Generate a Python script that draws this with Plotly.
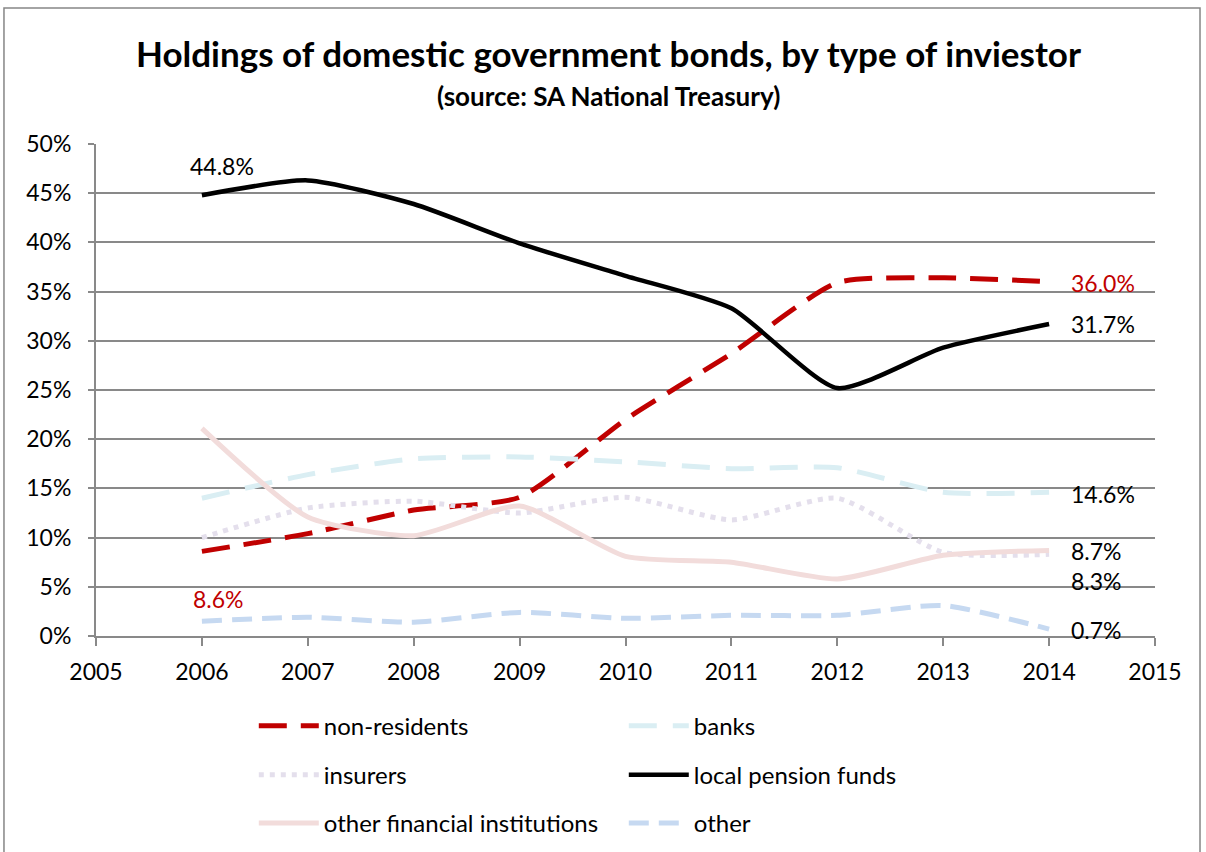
import plotly.graph_objects as go

years = [2006, 2007, 2008, 2009, 2010, 2011, 2012, 2013, 2014]

non_residents = [8.6, 10.4, 12.8, 14.1, 22.0, 28.7, 35.9, 36.4, 36.0]
banks = [14.0, 16.4, 18.0, 18.2, 17.7, 17.0, 17.1, 14.6, 14.6]
insurers = [10.0, 13.0, 13.7, 12.5, 14.1, 11.8, 14.0, 8.5, 8.3]
pension_funds = [44.8, 46.3, 43.9, 39.9, 36.6, 33.3, 25.2, 29.3, 31.7]
other_financial = [21.1, 12.1, 10.2, 13.2, 8.1, 7.5, 5.8, 8.2, 8.7]
other = [1.5, 1.9, 1.4, 2.4, 1.8, 2.1, 2.1, 3.1, 0.7]

FONT = "Lato, Open Sans, sans-serif"

series = [
    ("non-residents", non_residents, "#C00000", "28px,14px", 5, "legend"),
    ("banks", banks, "#DAEEF3", "28px,16px", 5, "legend"),
    ("insurers", insurers, "#E4DFEC", "5px,6px", 5, "legend2"),
    ("local pension funds", pension_funds, "#000000", "solid", 4.5, "legend2"),
    ("other financial institutions", other_financial, "#F2DCDB", "solid", 5, "legend3"),
    ("other", other, "#C6D9F1", "20px,10px", 5, "legend3"),
]

fig = go.Figure()
for name, vals, color, dash, width, leg in series:
    fig.add_trace(go.Scatter(
        x=years, y=vals, name=name, mode="lines",
        line=dict(color=color, width=width, dash=dash, shape="spline", smoothing=0.6),
        legend=leg,
    ))

# value labels at the series end points
def label(x, y, text, color="#000000", xshift=0, yshift=0, xanchor="center"):
    fig.add_annotation(x=x, y=y, text=text, showarrow=False, xanchor=xanchor,
                       xshift=xshift, yshift=yshift,
                       font=dict(family=FONT, size=23, color=color))

label(years[0], pension_funds[0], f"{pension_funds[0]:.1f}%", yshift=29, xshift=20)
label(years[0], non_residents[0], f"{non_residents[0]:.1f}%", color="#C00000", yshift=-48, xshift=17)
label(years[-1], non_residents[-1], f"{non_residents[-1]:.1f}%", color="#C00000", xanchor="left", xshift=20, yshift=-1)
label(years[-1], pension_funds[-1], f"{pension_funds[-1]:.1f}%", xanchor="left", xshift=20)
label(years[-1], banks[-1], f"{banks[-1]:.1f}%", xanchor="left", xshift=20, yshift=-2)
label(years[-1], other_financial[-1], f"{other_financial[-1]:.1f}%", xanchor="left", xshift=20, yshift=-1)
label(years[-1], insurers[-1], f"{insurers[-1]:.1f}%", xanchor="left", xshift=20, yshift=-27)
label(years[-1], other[-1], f"{other[-1]:.1f}%", xanchor="left", xshift=20, yshift=-1)

# titles
fig.add_annotation(xref="paper", yref="paper", x=0.4844, y=1.185, yanchor="middle",
                   text="<b>Holdings of domestic government bonds, by type of inviestor</b>",
                   showarrow=False, font=dict(family=FONT, size=35, color="#000000"))
fig.add_annotation(xref="paper", yref="paper", x=0.4844, y=1.098, yanchor="middle",
                   text="<b>(source: SA National Treasury)</b>",
                   showarrow=False, font=dict(family=FONT, size=26, color="#000000"))

# outer chart border
fig.add_shape(type="rect", xref="paper", yref="paper", x0=-0.0869, x1=1.0425, y0=-0.46, y1=1.2764,
              line=dict(color="#868686", width=1.5), fillcolor="rgba(0,0,0,0)", layer="below")

legend_common = dict(orientation="h", xanchor="left", yanchor="middle", x=0.149,
                     font=dict(family=FONT, size=24, color="#000000"),
                     entrywidth=295, entrywidthmode="pixels", bgcolor="rgba(0,0,0,0)",
                     itemwidth=60, tracegroupgap=0)

fig.update_layout(
    width=1206, height=852,
    margin=dict(l=96, r=51, t=144, b=216, autoexpand=False),
    paper_bgcolor="#FFFFFF", plot_bgcolor="#FFFFFF",
    font=dict(family=FONT, size=23, color="#000000"),
    showlegend=True,
    legend=dict(**legend_common, y=-0.183),
    legend2=dict(**legend_common, y=-0.283),
    legend3=dict(**legend_common, y=-0.381),
    xaxis=dict(range=[2005, 2015], dtick=1, tick0=2005, showgrid=False, zeroline=False,
               showline=True, linecolor="#898989", linewidth=2,
               ticks="outside", ticklen=8, tickcolor="#898989", tickwidth=2,
               tickfont=dict(family=FONT, size=23), ticklabelstandoff=6),
    yaxis=dict(range=[0, 50], dtick=5, showgrid=True, gridcolor="#898989", gridwidth=2,
               zeroline=False, showline=True, linecolor="#898989", linewidth=2,
               ticks="outside", ticklen=6, tickcolor="#898989", tickwidth=2,
               ticksuffix="%", tickfont=dict(family=FONT, size=23), ticklabelstandoff=12),
)

fig.write_html("out.html")
